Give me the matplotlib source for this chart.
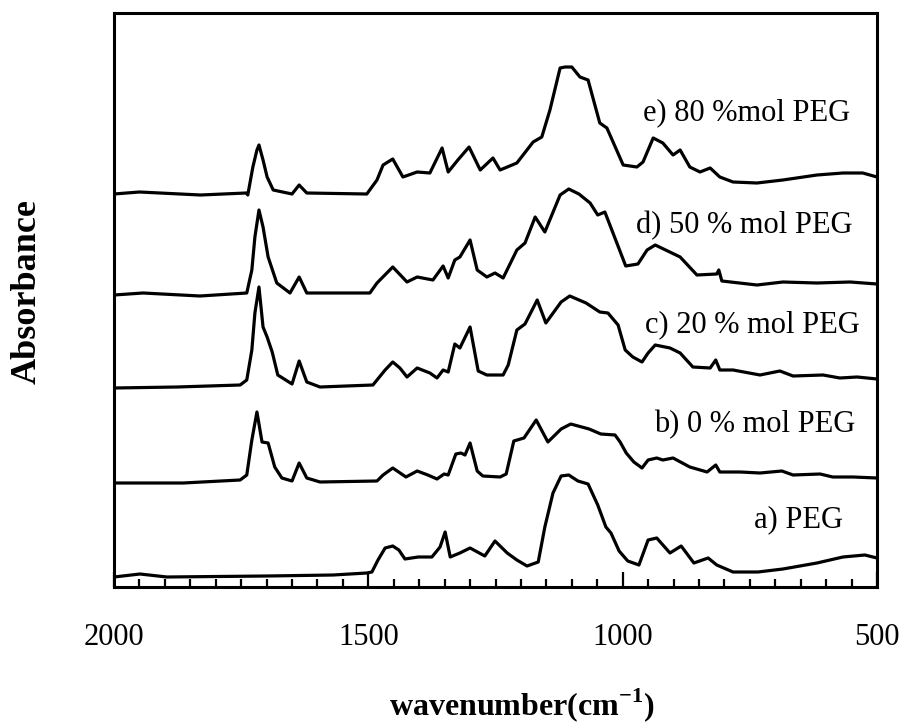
import matplotlib.pyplot as plt
from matplotlib.ticker import MultipleLocator

plt.rcParams['font.family'] = 'Liberation Serif'
plt.rcParams['mathtext.fontset'] = 'custom'
plt.rcParams['mathtext.rm'] = 'Liberation Serif'
plt.rcParams['mathtext.bf'] = 'Liberation Serif:bold'

# FTIR spectra: wavenumber (cm-1) and absorbance (a.u., stacked)
wn_a = [2000, 1949, 1896, 1699, 1569, 1503, 1493, 1481, 1467, 1452, 1440, 1428, 1402,
        1375, 1359, 1349, 1339, 1320, 1300, 1271, 1251, 1227, 1208, 1188, 1166, 1153,
        1137, 1121, 1106, 1088, 1068, 1049, 1033, 1023, 1007, 990, 968, 950, 933, 907,
        885, 860, 832, 815, 783, 734, 685, 618, 567, 524, 500]
abs_a = [0.10, 0.13, 0.10, 0.11, 0.12, 0.14, 0.15, 0.27, 0.39, 0.41, 0.37, 0.28, 0.30,
         0.30, 0.40, 0.55, 0.30, 0.34, 0.39, 0.31, 0.46, 0.34, 0.27, 0.21, 0.25, 0.60,
         0.94, 1.11, 1.12, 1.06, 1.03, 0.82, 0.60, 0.54, 0.36, 0.26, 0.22, 0.47, 0.49, 0.34,
         0.41, 0.24, 0.29, 0.22, 0.15, 0.15, 0.18, 0.24, 0.30, 0.32, 0.29]

wn_b = [2000, 1864, 1752, 1739, 1729, 1719, 1709, 1697, 1684, 1670, 1650, 1636, 1621,
        1595, 1483, 1471, 1452, 1426, 1404, 1383, 1365, 1351, 1343, 1328, 1318, 1310,
        1300, 1286, 1275, 1241, 1229, 1214, 1194, 1170, 1147, 1121, 1102, 1066, 1043,
        1015, 1005, 993, 978, 962, 950, 933, 921, 901, 868, 834, 817, 809, 769, 730, 687,
        665, 612, 587, 547, 500]
abs_b = [1.04, 1.04, 1.07, 1.12, 1.47, 1.75, 1.45, 1.44, 1.20, 1.09, 1.06, 1.24, 1.09,
         1.05, 1.06, 1.12, 1.19, 1.10, 1.16, 1.12, 1.08, 1.13, 1.12, 1.33, 1.34, 1.32,
         1.44, 1.16, 1.11, 1.10, 1.13, 1.46, 1.49, 1.67, 1.45, 1.58, 1.63, 1.58, 1.53,
         1.52, 1.45, 1.34, 1.25, 1.19, 1.27, 1.29, 1.27, 1.29, 1.20, 1.15, 1.22, 1.15, 1.15,
         1.14, 1.16, 1.12, 1.13, 1.10, 1.10, 1.09]

wn_c = [2000, 1876, 1752, 1739, 1729, 1723, 1715, 1707, 1699, 1689, 1678, 1650, 1636,
        1621, 1595, 1491, 1467, 1452, 1438, 1424, 1404, 1379, 1365, 1353, 1343, 1330,
        1320, 1300, 1284, 1267, 1235, 1225, 1208, 1192, 1168, 1151, 1121, 1104, 1072,
        1045, 1029, 1009, 995, 980, 962, 950, 936, 907, 887, 862, 828, 817, 809, 783, 730,
        691, 665, 606, 573, 539, 500]
abs_c = [1.99, 2.00, 2.02, 2.07, 2.37, 2.74, 3.00, 2.60, 2.50, 2.35, 2.12, 2.03, 2.26,
         2.05, 2.00, 2.02, 2.17, 2.25, 2.19, 2.10, 2.19, 2.14, 2.09, 2.17, 2.15, 2.43,
         2.39, 2.60, 2.16, 2.12, 2.12, 2.22, 2.57, 2.63, 2.87, 2.64, 2.85, 2.91, 2.84,
         2.75, 2.74, 2.62, 2.37, 2.30, 2.25, 2.34, 2.42, 2.39, 2.34, 2.20, 2.19, 2.27, 2.17,
         2.17, 2.12, 2.16, 2.11, 2.12, 2.09, 2.10, 2.08]

wn_d = [2000, 1943, 1831, 1739, 1729, 1723, 1715, 1707, 1697, 1680, 1654, 1636, 1621,
        1497, 1483, 1452, 1424, 1404, 1373, 1353, 1343, 1330, 1320, 1300, 1286, 1267,
        1251, 1235, 1208, 1192, 1172, 1153, 1123, 1106, 1086, 1064, 1049, 1035, 1019,
        994, 970, 952, 936, 887, 854, 815, 811, 805, 736, 685, 618, 553, 500]
abs_d = [2.92, 2.94, 2.91, 2.94, 3.17, 3.50, 3.77, 3.60, 3.30, 3.04, 2.94, 3.10, 2.94,
         2.94, 3.04, 3.20, 3.05, 3.10, 3.07, 3.21, 3.09, 3.27, 3.30, 3.47, 3.17, 3.10,
         3.14, 3.09, 3.37, 3.44, 3.70, 3.55, 3.92, 3.98, 3.93, 3.84, 3.72, 3.75, 3.54,
         3.21, 3.23, 3.37, 3.42, 3.30, 3.12, 3.13, 3.17, 3.06, 3.02, 3.05, 3.04, 3.05, 3.03]

wn_e = [2000, 1950, 1830, 1740, 1737, 1727, 1719, 1715, 1707, 1699, 1687, 1650, 1636,
        1621, 1503, 1483, 1471, 1452, 1432, 1404, 1379, 1355, 1343, 1324, 1302, 1280,
        1255, 1241, 1208, 1176, 1159, 1143, 1123, 1113, 1100, 1084, 1068, 1045, 1031,
        999, 972, 960, 940, 921, 901, 887, 868, 848, 828, 809, 783, 736, 685, 618, 567,
        528, 500]
abs_e = [3.93, 3.95, 3.92, 3.94, 3.92, 4.20, 4.37, 4.42, 4.27, 4.10, 3.97, 3.93, 4.02,
         3.94, 3.93, 4.07, 4.22, 4.28, 4.10, 4.15, 4.14, 4.39, 4.15, 4.27, 4.40, 4.17,
         4.29, 4.17, 4.24, 4.45, 4.50, 4.77, 5.19, 5.20, 5.20, 5.10, 5.07, 4.64, 4.59,
         4.22, 4.20, 4.25, 4.49, 4.44, 4.32, 4.37, 4.20, 4.15, 4.19, 4.10, 4.05, 4.04,
         4.07, 4.12, 4.14, 4.14, 4.10]

labels = ['a) PEG', 'b) 0 % mol PEG', 'c) 20 % mol PEG', 'd) 50 % mol PEG', 'e) 80 %mol PEG']

fig = plt.figure(figsize=(9.08, 7.25), dpi=100)
ax = fig.add_axes([114 / 908, 138 / 725, 763 / 908, 574 / 725])

for wn, ab in [(wn_a, abs_a), (wn_b, abs_b), (wn_c, abs_c), (wn_d, abs_d), (wn_e, abs_e)]:
    ax.plot(wn, ab, color='black', lw=2.3, solid_joinstyle='round')

# curve labels, right aligned near the right edge
label_pos = [(567, 0.60), (543, 1.55), (533, 2.55), (547, 3.54), (553, 4.67)]
for text, (x, y) in zip(labels, label_pos):
    ax.text(x, y, text, ha='right', va='baseline', fontsize=22)

ax.set_xlim(2000, 500)
ax.set_ylim(0, 5.74)
ax.set_yticks([])
ax.xaxis.set_major_locator(MultipleLocator(500))
ax.xaxis.set_minor_locator(MultipleLocator(50))
ax.tick_params(axis='x', which='major', direction='in', length=11, width=1.6,
               labelsize=22, pad=26)
ax.tick_params(axis='x', which='minor', direction='in', length=5.5, width=1.6)
for sp in ax.spines.values():
    sp.set_linewidth(2.2)

fig.text(522 / 908, 10 / 725, r'wavenumber(cm$^{\mathbf{-1}}$)', ha='center',
         va='baseline', fontsize=23, fontweight='bold')
fig.text(27 / 908, 1 - 292 / 725, 'Absorbance', rotation=90, ha='center',
         va='center', fontsize=26, fontweight='bold')

fig.savefig('out.png', dpi=100)
